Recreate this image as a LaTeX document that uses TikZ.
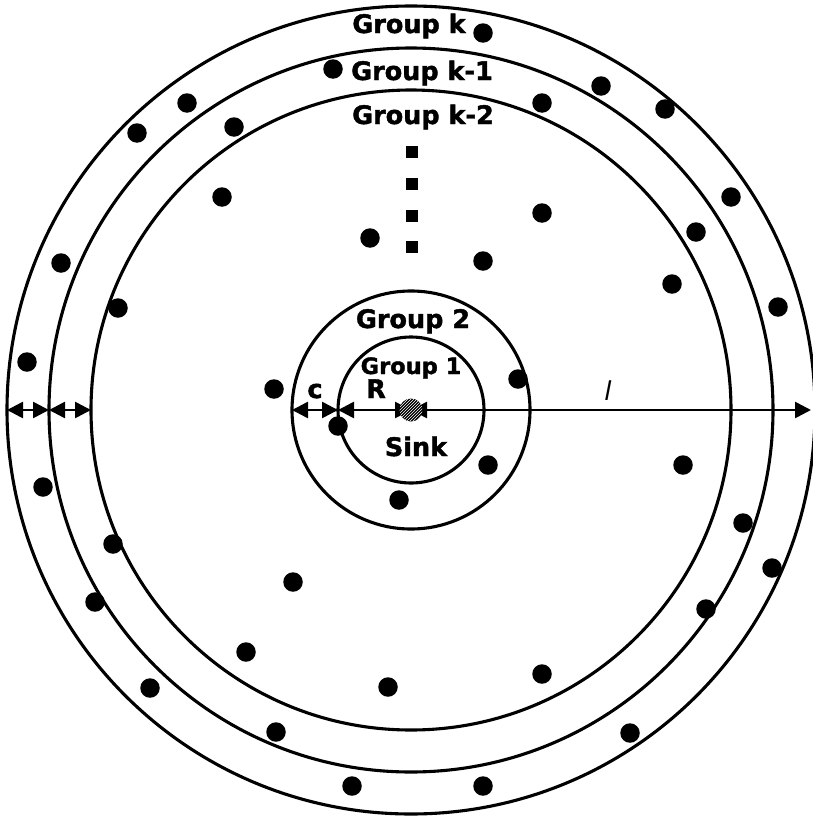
\documentclass[tikz,border=0pt]{standalone}
\usepackage{fontspec}
\setmainfont{DejaVu Sans}[BoldFeatures={FakeBold=1.6}]
\usetikzlibrary{arrows.meta,patterns,calc}
\tikzset{
  ring/.style={draw=black, line width=3.1pt},
  dot/.style={circle, fill=black, inner sep=0pt, minimum size=19.5pt},
  sq/.style={rectangle, fill=black, inner sep=0pt, minimum size=11.5pt},
  dim/.style={line width=2.6pt, {Triangle[length=16pt,width=16pt]}-{Triangle[length=16pt,width=16pt]}},
  lbl/.style={font=\fontsize{25.5}{28}\selectfont\bfseries, anchor=base, inner sep=0pt},
  slbl/.style={font=\fontsize{22.5}{25}\selectfont\bfseries, anchor=base, inner sep=0pt}
}
\begin{document}
\begin{tikzpicture}[x=1pt,y=-1pt]
\useasboundingbox (0,0) rectangle (812,819);
\coordinate (ctr) at (411,410);
% rings
\draw[ring] (ctr) circle (404);
\draw[ring] (ctr) circle (362);
\draw[ring] (ctr) circle (320);
\draw[ring] (ctr) circle (119);
\draw[ring] (ctr) circle (73);
% dimension coordinates
\coordinate (a0) at ($(ctr)+(-404,0)$);
\coordinate (a1) at ($(ctr)+(-362,0)$);
\coordinate (a2) at ($(ctr)+(-320,0)$);
\coordinate (b2) at ($(ctr)+(-119,0)$);
\coordinate (b1) at ($(ctr)+(-73,0)$);
\coordinate (rend) at (811,410);
\draw[dim] (a0) -- (a1);
\draw[dim] (a1) -- (a2);
\draw[dim] (b2) -- (b1);
\draw[dim] (b1) -- (ctr);
\draw[dim] (ctr) -- (rend);
% sink
\fill[black] (ctr) circle (11.5);
\fill[pattern=north east lines, pattern color=white] (ctr) circle (11.5);
\node[inner sep=0pt, minimum size=23pt, circle] (sink) at (ctr) {};
% dots
\foreach \x/\y [count=\i] in {483/33,333/69,601/86,187/103,542/103,665/109,137/133,234/127,
  731/197,222/197,542/213,696/232,370/238,483/261,61/263,672/284,118/308,778/307,27/362,
  274/389,518/379,338/426,488/465,683/465,43/487,399/500,743/523,113/544,772/568,293/582,
  95/602,706/609,246/652,542/674,388/687,150/688,630/733,276/732,352/786,483/786}
  \node[dot] (d\i) at (\x,\y) {};
% vertical ellipsis squares
\foreach \y [count=\i] in {152,184,216,247}
  \node[sq] (s\i) at (412,\y) {};
% labels
\node[lbl] (gk) at (409,33) {Group k};
\node[lbl] (gk1) at (422,80) {Group k-1};
\node[lbl] (gk2) at (423,124) {Group k-2};
\node[lbl] (g2) at (413,328) {Group 2};
\node[slbl] (g1) at (411,374) {Group 1};
\node[lbl] (sinklbl) at (416,456) {Sink};
\node[lbl] (clbl) at (315,398) {c};
\node[lbl] (rlbl) at (376,398) {R};
\node[anchor=base, inner sep=0pt, font=\fontsize{26}{28}\selectfont\itshape] (llbl) at (608,400) {l};
\end{tikzpicture}
\end{document}
